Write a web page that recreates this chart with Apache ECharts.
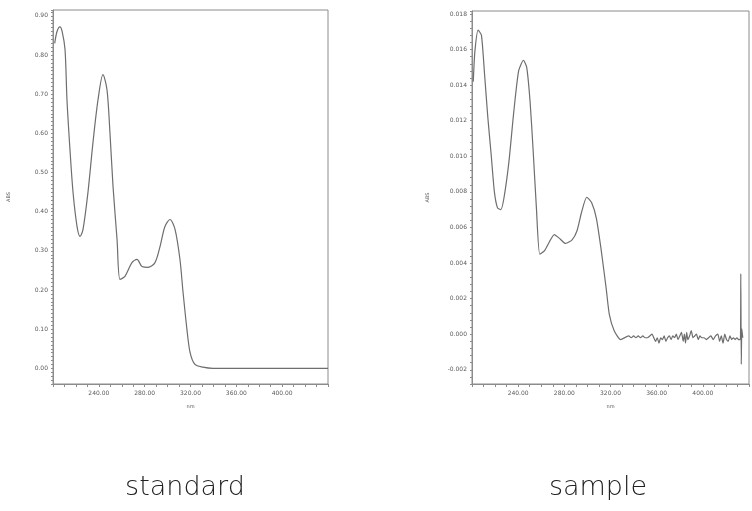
<!DOCTYPE html>
<html>
<head>
<meta charset="utf-8">
<title>standard / sample</title>
<script src="https://cdn.jsdelivr.net/npm/echarts@6/dist/echarts.min.js"></script>
<style>
  html, body { margin: 0; padding: 0; background: #fff; }
  #chart { width: 752px; height: 511px; }
</style>
</head>
<body>
<div id="chart"></div>
<script>
// Wavelength (nm) and absorbance readings of the reference standard
const standardNm = [201.5, 203.5, 206, 208, 210.5, 212.2, 214.8, 217.5, 221, 223.6, 226.2, 230.5, 234.9, 239.3, 243.6, 247.1, 249.7, 252.4, 255.9, 258.5, 262.8, 268.9, 273.3, 277.7, 282.9, 289, 293.4, 297.7, 302.1, 306.5, 310.8, 313.5, 316.9, 319.6, 323.9, 330.9, 339.6, 360, 400, 440];
const standardAbs = [0.83, 0.86, 0.872, 0.86, 0.814, 0.686, 0.559, 0.449, 0.362, 0.337, 0.355, 0.449, 0.577, 0.686, 0.75, 0.712, 0.602, 0.464, 0.329, 0.227, 0.235, 0.270, 0.278, 0.260, 0.258, 0.270, 0.311, 0.362, 0.380, 0.355, 0.278, 0.194, 0.099, 0.041, 0.010, 0.003, 0.000, 0.000, 0.000, 0.000];

// Wavelength (nm) and absorbance readings of the sample
const sampleNm = [201.1, 202.5, 205.3, 208.2, 210.9, 213.7, 216.6, 219.4, 222.1, 225.0, 227.8, 232.0, 236.2, 240.4, 244.6, 247.4, 250.3, 253.0, 255.8, 258.7, 262.9, 267.1, 271.3, 275.5, 281.1, 286.7, 290.9, 295.1, 299.4, 303.6, 307.8, 312.0, 316.2, 319.0, 323.2, 328.8, 335.8,
  338, 340, 342, 344, 346, 348, 350, 352, 354, 356, 357.5, 359, 360.5, 362, 363.5, 365, 366.5, 368, 369.5, 371, 372.5, 374, 375.5, 377, 378.5, 380, 381.5, 383, 384, 385, 386, 387, 388.5, 390, 391.5, 393, 394.5, 396, 397.5, 399,
  401, 403, 405, 407, 409, 411, 413, 414.5, 416, 417.5, 419, 420.5, 422, 423.5, 425, 426.5, 428, 429.5, 431, 432.5, 432.9, 433.3, 433.8, 434.6];
const sampleAbs = [0.0142, 0.0159, 0.0171, 0.0168, 0.0146, 0.0122, 0.0101, 0.0080, 0.0071, 0.0070, 0.0077, 0.0097, 0.0125, 0.0148, 0.0154, 0.0150, 0.0131, 0.0103, 0.0071, 0.0045, 0.0047, 0.0052, 0.0056, 0.0054, 0.0051, 0.0053, 0.0058, 0.0069, 0.0077, 0.0074, 0.0065, 0.0047, 0.0026, 0.0011, 0.0002, -0.0003, -0.0001,
  -0.0002, -0.0001, -0.0002, -0.0001, -0.0002, -0.0001, -0.0002, -0.0002, -0.0001, 0.0000, -0.0002, -0.0004, -0.0002, -0.0005, -0.0002, -0.0003, -0.0001, -0.0004, -0.0002, -0.0001, -0.0003, -0.0001, -0.0002, 0.0000, -0.0003, -0.0001, 0.0001, -0.0004, 0.0000, -0.0005, 0.0001, -0.0003, -0.0001, 0.0002, -0.0002, -0.0001, 0.0000, -0.0003, -0.0001, -0.0002,
  -0.0002, -0.0003, -0.0002, -0.0001, -0.0003, -0.0001, 0.0000, -0.0004, -0.0001, -0.0005, 0.0000, -0.0003, -0.0004, -0.0001, -0.0003, -0.0002, -0.0003, -0.0002, -0.0003, -0.0003, 0.0034, -0.0017, 0.0003, -0.0002];

// Labelled ticks
const xTickLabels = [240, 280, 320, 360, 400];
const standardYLabels = [0.0, 0.1, 0.2, 0.3, 0.4, 0.5, 0.6, 0.7, 0.8, 0.9];
const sampleYLabels = [-0.002, 0.000, 0.002, 0.004, 0.006, 0.008, 0.010, 0.012, 0.014, 0.016, 0.018];

const panelTitles = ['standard', 'sample'];

function pairs(xs, ys) { return xs.map((x, i) => [x, ys[i]]); }
function near(v, list) { return list.some(t => Math.abs(t - v) < 1e-9); }

const LINE = '#6e6e6e';
const AXIS = '#8c8c8c';
const TXT = '#5a5a5a';
const tinyFont = { fontFamily: 'DejaVu Sans', fontSize: 6, color: TXT };

function xAxisFor(gridIndex) {
  return {
    type: 'value', gridIndex, min: 200, max: 440, interval: 10,
    name: 'nm', nameLocation: 'middle', nameGap: 20,
    nameTextStyle: Object.assign({}, tinyFont, { fontSize: 5 }),
    axisLine: { show: true, onZero: false, lineStyle: { color: AXIS, width: 1 } },
    axisTick: { show: true, inside: false, length: 3, lineStyle: { color: AXIS } },
    axisLabel: Object.assign({}, tinyFont, {
      margin: 6, showMinLabel: true, showMaxLabel: true,
      formatter: v => near(v, xTickLabels) ? v.toFixed(2) : ''
    }),
    splitLine: { show: false }
  };
}

function yAxisFor(gridIndex, min, max, step, labels, digits) {
  return {
    type: 'value', gridIndex, min, max, interval: step,
    name: 'ABS', nameLocation: 'middle', nameGap: 42, nameRotate: 90,
    nameTextStyle: Object.assign({}, tinyFont, { fontSize: 5 }),
    axisLine: { show: true, onZero: false, lineStyle: { color: AXIS, width: 1 } },
    axisTick: { show: true, inside: false, length: 2, lineStyle: { color: AXIS } },
    axisLabel: Object.assign({}, tinyFont, {
      margin: 5, showMinLabel: true, showMaxLabel: true,
      formatter: v => near(v, labels) ? v.toFixed(digits) : ''
    }),
    splitLine: { show: false }
  };
}

const chart = echarts.init(document.getElementById('chart'), null, { renderer: 'canvas' });

chart.setOption({
  backgroundColor: '#ffffff',
  animation: false,
  grid: [
    { left: 53, top: 10, width: 275, height: 374, show: true, borderColor: AXIS, borderWidth: 1, containLabel: false },
    { left: 472, top: 11, width: 286, height: 373, show: true, borderColor: AXIS, borderWidth: 1, containLabel: false }
  ],
  xAxis: [xAxisFor(0), xAxisFor(1)],
  yAxis: [
    yAxisFor(0, -0.04, 0.915, 0.01, standardYLabels, 2),
    yAxisFor(1, -0.0028, 0.01817, 0.0004, sampleYLabels, 3)
  ],
  series: [
    {
      type: 'line', xAxisIndex: 0, yAxisIndex: 0,
      data: pairs(standardNm, standardAbs),
      showSymbol: false, smooth: 0.3,
      lineStyle: { color: LINE, width: 1.2 }
    },
    {
      type: 'line', xAxisIndex: 1, yAxisIndex: 1,
      data: pairs(sampleNm, sampleAbs),
      showSymbol: false, smooth: 0.2,
      lineStyle: { color: LINE, width: 1.2 }
    }
  ],
  graphic: [
    { type: 'text', x: 185, y: 474, style: { text: panelTitles[0], fill: '#222', font: '300 27px "DejaVu Sans"', textAlign: 'center' } },
    { type: 'text', x: 598, y: 474, style: { text: panelTitles[1], fill: '#222', font: '300 27px "DejaVu Sans"', textAlign: 'center' } }
  ]
});
</script>
</body>
</html>
